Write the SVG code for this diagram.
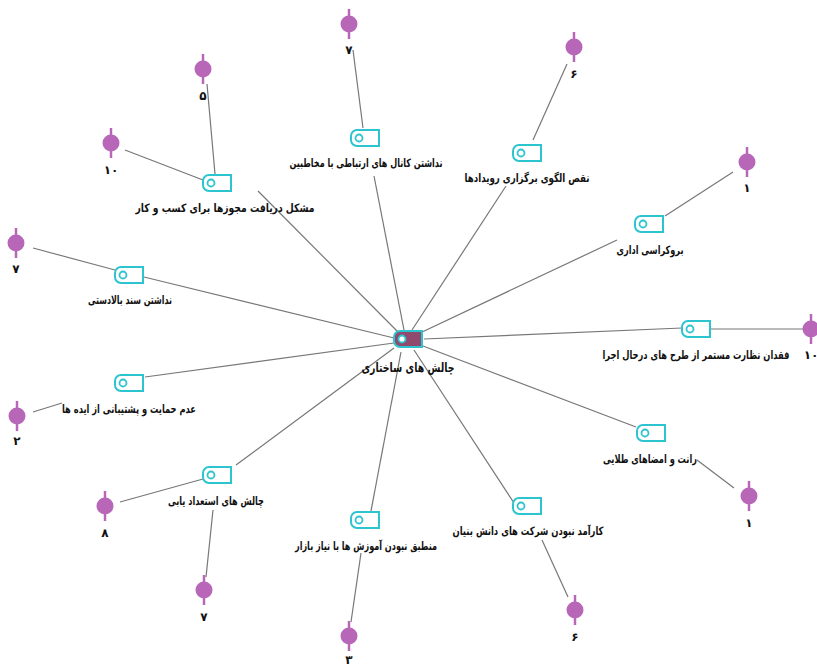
<svg xmlns="http://www.w3.org/2000/svg" width="817" height="665" viewBox="0 0 817 665">
<defs>
<style>
.ln{stroke:#777;stroke-width:1.2;fill:none}
.tag{fill:#fff;stroke:#2cc4cf;stroke-width:2}
.tc{fill:#fff;stroke:#2cc4cf;stroke-width:1.8}
text{font-family:"DejaVu Sans",sans-serif;font-weight:bold;font-size:11.5px;fill:#111;stroke:none;text-anchor:middle}
.num{font-size:12px}
.ctr{font-size:13px}
</style>
<path id="tg" d="M6,0 H28 V16 H6 A6,6 0 0 1 0,10 V6 A6,6 0 0 1 6,0 Z"/>
<g id="pn"><line x1="0" y1="-15" x2="0" y2="15" stroke="#b867b8" stroke-width="2.5"/><circle r="8.5" fill="#b867b8"/></g>
</defs>
<rect width="817" height="665" fill="#fff"/>
<g id="connectors">
<line class="ln" x1="258" y1="191" x2="398" y2="332"/>
<line class="ln" x1="374" y1="176" x2="404" y2="330"/>
<line class="ln" x1="506" y1="186" x2="412" y2="330"/>
<line class="ln" x1="617" y1="240" x2="420" y2="333"/>
<line class="ln" x1="682" y1="328" x2="424" y2="339"/>
<line class="ln" x1="636" y1="427" x2="423" y2="346"/>
<line class="ln" x1="514" y1="503" x2="414" y2="350"/>
<line class="ln" x1="371" y1="511" x2="401" y2="352"/>
<line class="ln" x1="236" y1="465" x2="394" y2="348"/>
<line class="ln" x1="145" y1="377" x2="394" y2="343"/>
<line class="ln" x1="144" y1="277" x2="394" y2="338"/>
<line class="ln" x1="207" y1="84" x2="215" y2="174"/>
<line class="ln" x1="125" y1="150" x2="203" y2="180"/>
<line class="ln" x1="353" y1="50" x2="363" y2="128"/>
<line class="ln" x1="567" y1="64" x2="533" y2="140"/>
<line class="ln" x1="733" y1="172" x2="665" y2="216"/>
<line class="ln" x1="710" y1="329" x2="803" y2="329"/>
<line class="ln" x1="697" y1="460" x2="734" y2="488"/>
<line class="ln" x1="542" y1="540" x2="568" y2="597"/>
<line class="ln" x1="361" y1="553" x2="351" y2="622"/>
<line class="ln" x1="120" y1="502" x2="203" y2="479"/>
<line class="ln" x1="213" y1="510" x2="206" y2="577"/>
<line class="ln" x1="33" y1="412" x2="62" y2="403"/>
<line class="ln" x1="33" y1="248" x2="115" y2="270"/>
</g>
<g id="center">
<path d="M400,331 H422 V347 H400 A6,6 0 0 1 394,341 V337 A6,6 0 0 1 400,331 Z" fill="#8f4a6d" stroke="#2cc4cf" stroke-width="2"/>
<circle cx="402" cy="339" r="3.5" class="tc"/>
<text x="408" y="372" class="ctr" textLength="93" lengthAdjust="spacingAndGlyphs">چالش های ساختاری</text>
</g>
<g id="n1"><use href="#tg" x="203" y="175" class="tag"/><circle cx="211" cy="183" r="3.5" class="tc"/><text x="225" y="212" textLength="179" lengthAdjust="spacingAndGlyphs">مشکل دریافت مجوزها برای کسب و کار</text></g>
<g id="n2"><use href="#tg" x="351" y="130" class="tag"/><circle cx="359" cy="138" r="3.5" class="tc"/><text x="366" y="167" textLength="153" lengthAdjust="spacingAndGlyphs">نداشتن کانال های ارتباطی با مخاطبین</text></g>
<g id="n3"><use href="#tg" x="513" y="145" class="tag"/><circle cx="521" cy="153" r="3.5" class="tc"/><text x="527" y="182" textLength="125" lengthAdjust="spacingAndGlyphs">نقص الگوی برگزاری رویدادها</text></g>
<g id="n4"><use href="#tg" x="635" y="216" class="tag"/><circle cx="643" cy="224" r="3.5" class="tc"/><text x="650" y="254" textLength="67" lengthAdjust="spacingAndGlyphs">بروکراسی اداری</text></g>
<g id="n5"><use href="#tg" x="682" y="321" class="tag"/><circle cx="690" cy="329" r="3.5" class="tc"/><text x="696" y="359" textLength="187" lengthAdjust="spacingAndGlyphs">فقدان نظارت مستمر از طرح های درحال اجرا</text></g>
<g id="n6"><use href="#tg" x="637" y="425" class="tag"/><circle cx="645" cy="433" r="3.5" class="tc"/><text x="650" y="463" textLength="94" lengthAdjust="spacingAndGlyphs">رانت و امضاهای طلایی</text></g>
<g id="n7"><use href="#tg" x="513" y="498" class="tag"/><circle cx="521" cy="506" r="3.5" class="tc"/><text x="528" y="535" textLength="151" lengthAdjust="spacingAndGlyphs">کارآمد نبودن شرکت های دانش بنیان</text></g>
<g id="n8"><use href="#tg" x="351" y="512" class="tag"/><circle cx="359" cy="520" r="3.5" class="tc"/><text x="366" y="550" textLength="142" lengthAdjust="spacingAndGlyphs">منطبق نبودن آموزش ها با نیاز بازار</text></g>
<g id="n9"><use href="#tg" x="203" y="467" class="tag"/><circle cx="211" cy="475" r="3.5" class="tc"/><text x="216" y="505" textLength="96" lengthAdjust="spacingAndGlyphs">چالش های استعداد یابی</text></g>
<g id="n10"><use href="#tg" x="115" y="375" class="tag"/><circle cx="123" cy="383" r="3.5" class="tc"/><text x="129" y="413" textLength="134" lengthAdjust="spacingAndGlyphs">عدم حمایت و پشتیبانی از ایده ها</text></g>
<g id="n11"><use href="#tg" x="115" y="267" class="tag"/><circle cx="123" cy="275" r="3.5" class="tc"/><text x="130" y="304" textLength="84" lengthAdjust="spacingAndGlyphs">نداشتن سند بالادستی</text></g>
<g id="p1"><use href="#pn" x="203" y="69"/><text class="num" x="203" y="100">۵</text></g>
<g id="p2"><use href="#pn" x="111" y="143"/><text class="num" x="111" y="174">۱۰</text></g>
<g id="p3"><use href="#pn" x="349" y="24"/><text class="num" x="349" y="54">۷</text></g>
<g id="p4"><use href="#pn" x="574" y="47"/><text class="num" x="574" y="78">۶</text></g>
<g id="p5"><use href="#pn" x="747" y="162"/><text class="num" x="747" y="192">۱</text></g>
<g id="p6"><use href="#pn" x="811" y="329"/><text class="num" x="811" y="359">۱۰</text></g>
<g id="p7"><use href="#pn" x="749" y="496"/><text class="num" x="749" y="527">۱</text></g>
<g id="p8"><use href="#pn" x="575" y="610"/><text class="num" x="575" y="641">۶</text></g>
<g id="p9"><use href="#pn" x="349" y="636"/><text class="num" x="349" y="664">۳</text></g>
<g id="p10"><use href="#pn" x="105" y="506"/><text class="num" x="105" y="537">۸</text></g>
<g id="p11"><use href="#pn" x="204" y="590"/><text class="num" x="204" y="621">۷</text></g>
<g id="p12"><use href="#pn" x="17" y="416"/><text class="num" x="17" y="445">۲</text></g>
<g id="p13"><use href="#pn" x="16" y="243"/><text class="num" x="16" y="273">۷</text></g>
</svg>
